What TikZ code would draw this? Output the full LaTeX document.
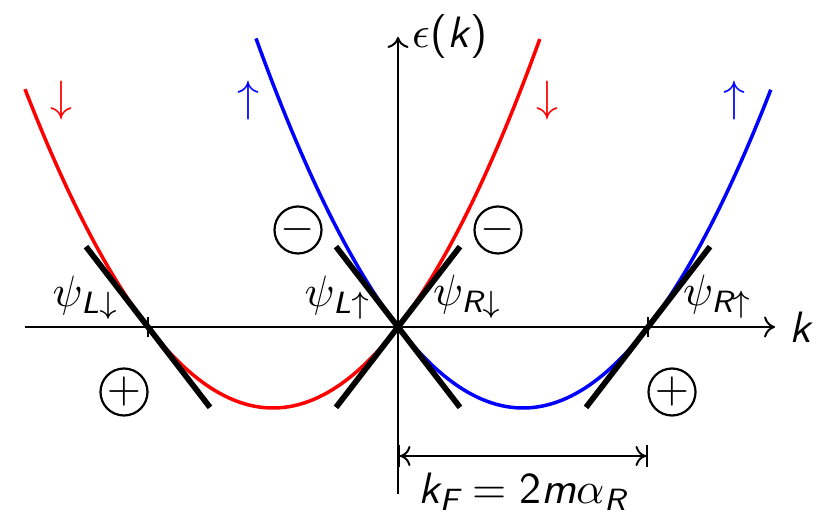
\documentclass[tikz,border=0pt]{standalone}
\usepackage{amsmath}
\usetikzlibrary{calc,arrows.meta}
\newcommand{\ssl}[1]{\textsf{\slshape #1}}
\tikzset{
  >={Computer Modern Rightarrow[width=4.8pt,length=2.5pt]},
  curve/.style={line width=0.8pt, samples=120},
  tangent/.style={line width=1.3pt, black},
  axis/.style={line width=0.45pt, ->},
  dimline/.style={line width=0.45pt, {Bar[width=5pt]Computer Modern Rightarrow[width=4.6pt,length=2.4pt]}-{Computer Modern Rightarrow[width=4.6pt,length=2.4pt]Bar[width=5pt]}},
  sign/.style={circle, draw, line width=0.5pt, minimum size=0.376cm, inner sep=0pt},
  lbl/.style={inner sep=0pt, font=\normalsize},
}
\begin{document}
\begin{tikzpicture}
\useasboundingbox (-3.184,-1.592) rectangle (3.448,2.616);
% coordinates
\coordinate (o) at (0,0);
\coordinate (xl) at (-2.984,0);
\coordinate (xr) at (3.016,0);
\coordinate (yb) at (0,-1.336);
\coordinate (yt) at (0,2.32);
\coordinate (kl) at (-2,0);
\coordinate (kr) at (2,0);
\coordinate (dl) at (0,-1.032);
\coordinate (dr) at (2,-1.032);
% axes
\draw[axis] (xl) -- (xr) node[right, inner sep=3pt] (klab) {\ssl{k}};
\draw[axis] (yb) -- (yt) node[right, inner sep=3pt] (elab) {$\epsilon$\textsf{(}\ssl{k}\textsf{)}};
% ticks
\draw[line width=0.45pt] ([yshift=-0.08cm]kl) -- ([yshift=0.08cm]kl);
\draw[line width=0.45pt] ([yshift=-0.08cm]kr) -- ([yshift=0.08cm]kr);
% parabolas
\draw[curve, red, domain=-2.984:1.136] plot (\x, {0.648*((\x+1)*(\x+1)-1)});
\draw[curve, blue, domain=-1.136:2.984] plot (\x, {0.648*((\x-1)*(\x-1)-1)});
% tangents
\draw[tangent] ($(kl)+(-0.496,0.643)$) -- ($(kl)+(0.496,-0.643)$);
\draw[tangent] ($(o)+(-0.496,0.643)$) -- ($(o)+(0.496,-0.643)$);
\draw[tangent] ($(o)+(-0.496,-0.643)$) -- ($(o)+(0.496,0.643)$);
\draw[tangent] ($(kr)+(-0.496,-0.643)$) -- ($(kr)+(0.496,0.643)$);
% labels
\node[lbl] (pld) at (-2.496,0.232) {$\psi_{\ssl{L}\downarrow}$};
\node[lbl] (plu) at (-0.48,0.232) {$\psi_{\ssl{L}\uparrow}$};
\node[lbl] (prd) at (0.56,0.24) {$\psi_{\ssl{R}\downarrow}$};
\node[lbl] (pru) at (2.56,0.24) {$\psi_{\ssl{R}\uparrow}$};
% signs
\node[sign] (m1) at (-0.8,0.776) {$-$};
\node[sign] (m2) at (0.8,0.776) {$-$};
\node[sign] (p1) at (-2.192,-0.52) {$+$};
\node[sign] (p2) at (2.192,-0.52) {$+$};
% spin arrows
\node[lbl, red] (a1) at (-2.69,1.808) {$\downarrow$};
\node[lbl, blue] (a2) at (-1.196,1.808) {$\uparrow$};
\node[lbl, red] (a3) at (1.196,1.808) {$\downarrow$};
\node[lbl, blue] (a4) at (2.69,1.808) {$\uparrow$};
% dimension
\draw[dimline] (dl) -- (dr);
\node[lbl] (kf) at (1,-1.32) {$\ssl{k}_{\ssl{F}} \mathrel{\textsf{=}} \textsf{2}\ssl{m}\alpha_{\ssl{R}}$};
\end{tikzpicture}
\end{document}
